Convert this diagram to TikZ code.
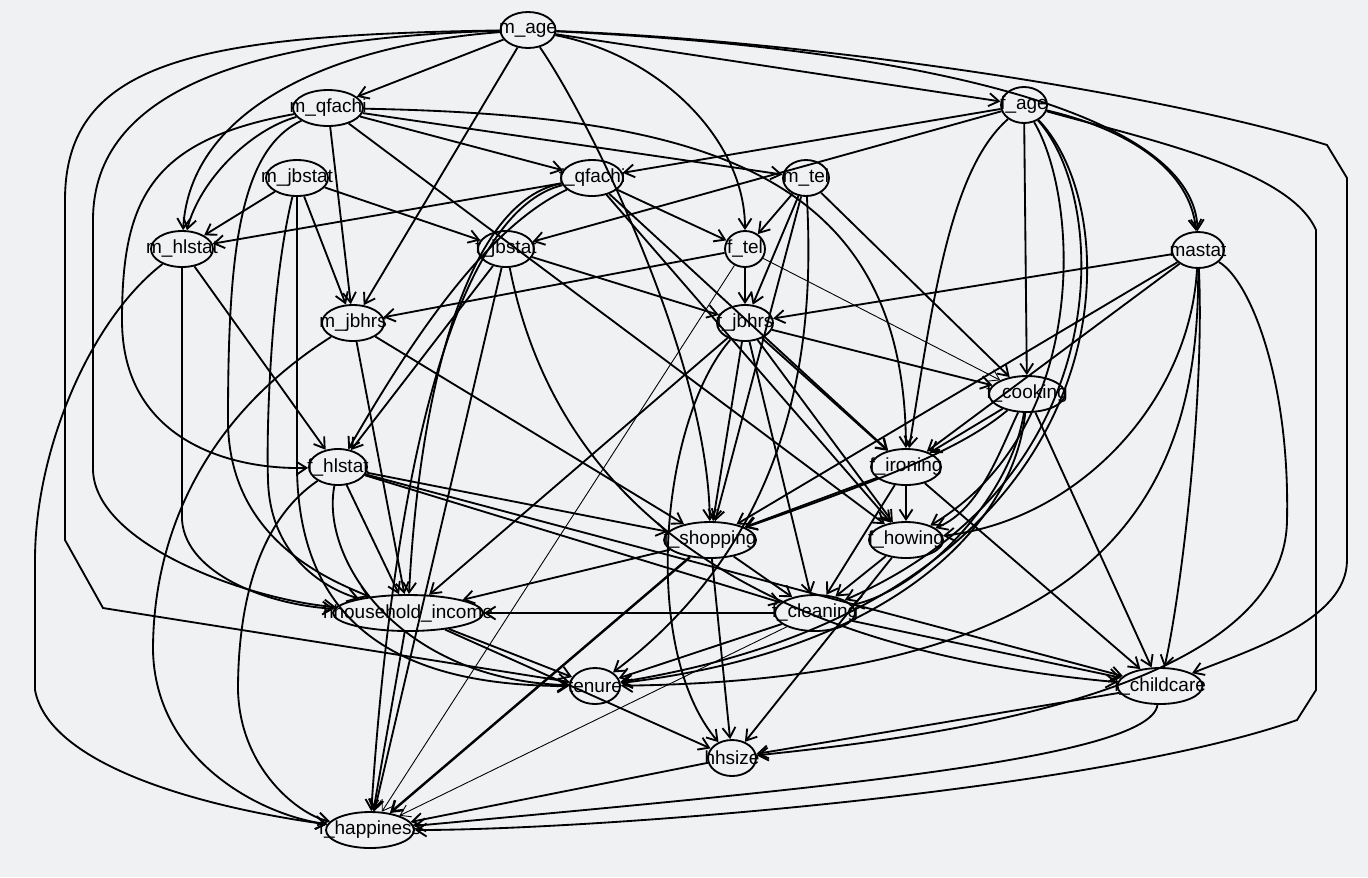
\documentclass[tikz,border=0pt]{standalone}
\usepackage{fontspec}
\setmainfont{Liberation Sans}
\usetikzlibrary{shapes.geometric,arrows.meta}
\definecolor{bgc}{RGB}{239,241,243}
\tikzset{
 nd/.style={ellipse, draw=black, line width=1.05pt, minimum height=0.72cm, inner sep=0pt, font=\fontsize{10.8}{12}\selectfont},
 e/.style={draw=black, line width=1.05pt, -{Straight Barb[length=2mm,width=2.6mm]}}
}
\begin{document}
\begin{tikzpicture}[x=0.02cm,y=-0.02cm]
\fill[bgc] (0,0) rectangle (1368,877);
\useasboundingbox (0,0) rectangle (1368,877);
% nodes
\node[nd, minimum width=1.1cm] (mage) at (528,30) {\makebox[0pt]{m\_age}};
\node[nd, minimum width=1.4cm] (mqf) at (328,108) {\makebox[0pt]{m\_qfachi}};
\node[nd, minimum width=0.92cm] (fage) at (1024,105) {\makebox[0pt]{f\_age}};
\node[nd, minimum width=1.24cm] (mjbs) at (297,178) {\makebox[0pt]{m\_jbstat}};
\node[nd, minimum width=1.24cm] (fqf) at (592,178) {\makebox[0pt]{f\_qfachi}};
\node[nd, minimum width=0.92cm] (mtel) at (806,178) {\makebox[0pt]{m\_tel}};
\node[nd, minimum width=1.24cm] (mhl) at (182,249) {\makebox[0pt]{m\_hlstat}};
\node[nd, minimum width=1.12cm] (fjbs) at (506,249) {\makebox[0pt]{f\_jbstat}};
\node[nd, minimum width=0.8cm] (ftel) at (745,249) {\makebox[0pt]{f\_tel}};
\node[nd, minimum width=1.04cm] (mast) at (1198,250) {\makebox[0pt]{mastat}};
\node[nd, minimum width=1.24cm] (mjbh) at (353,323) {\makebox[0pt]{m\_jbhrs}};
\node[nd, minimum width=1.12cm] (fjbh) at (745,323) {\makebox[0pt]{f\_jbhrs}};
\node[nd, minimum width=1.52cm] (fcook) at (1027,394) {\makebox[0pt]{f\_cooking}};
\node[nd, minimum width=1.16cm] (fhl) at (338,467) {\makebox[0pt]{f\_hlstat}};
\node[nd, minimum width=1.4cm] (firon) at (906,467) {\makebox[0pt]{f\_ironing}};
\node[nd, minimum width=1.84cm] (fshop) at (710,540) {\makebox[0pt]{f\_shopping}};
\node[nd, minimum width=1.48cm] (fhow) at (906,540) {\makebox[0pt]{f\_howing}};
\node[nd, minimum width=3.0cm] (inc) at (408,613) {\makebox[0pt]{hhousehold\_income}};
\node[nd, minimum width=1.6cm] (fclean) at (815,613) {\makebox[0pt]{f\_cleaning}};
\node[nd, minimum width=1.0cm] (ten) at (595,686) {\makebox[0pt]{tenure}};
\node[nd, minimum width=1.7cm] (fchild) at (1160,686) {\makebox[0pt]{f\_childcare}};
\node[nd, minimum width=0.96cm] (hh) at (732,758) {\makebox[0pt]{hhsize}};
\node[nd, minimum width=1.76cm] (fhap) at (370,830) {\makebox[0pt]{f\_happiness}};
% m_age
\draw[e] (mage) -- (mqf);
\draw[e] (mage) -- (fage);
\draw[e] (mage) .. controls (330,45) and (190,110) .. (mhl);
\draw[e] (mage) -- (mjbh);
\draw[e] (mage) .. controls (660,55) and (745,140) .. (ftel);
\draw[e] (mage) .. controls (590,120) and (708,360) .. (fshop);
\draw[e] (mage) .. controls (950,50) and (1195,120) .. (mast);
\draw[e] (mage) .. controls (250,38) and (93,90) .. (93,220) -- (93,470) .. controls (95,545) and (250,600) .. (inc);
\draw[e] (mage) .. controls (200,35) and (65,60) .. (65,200) -- (65,540) -- (103,608) -- (ten);
\draw[e] (mage) .. controls (800,40) and (1150,90) .. (1327,145) -- (1347,178) -- (1347,560) .. controls (1347,620) and (1250,650) .. (fchild);
% m_qfachi
\draw[e] (mqf) .. controls (250,130) and (200,180) .. (mhl);
\draw[e] (mqf) -- (mjbh);
\draw[e] (mqf) -- (fqf);
\draw[e] (mqf) -- (mtel);
\draw[e] (mqf) .. controls (700,115) and (905,170) .. (firon);
\draw[e] (mqf) -- (fhow);
\draw[e] (mqf) .. controls (150,140) and (122,200) .. (122,320) .. controls (122,440) and (230,470) .. (fhl);
\draw[e] (mqf) .. controls (240,150) and (228,250) .. (228,420) .. controls (228,540) and (330,580) .. (inc);
% m_jbstat
\draw[e] (mjbs) -- (mhl);
\draw[e] (mjbs) -- (mjbh);
\draw[e] (mjbs) -- (fjbs);
\draw[e] (mjbs) .. controls (272,280) and (266,420) .. (268,480) .. controls (270,560) and (330,590) .. (inc);
\draw[e] (mjbs) -- (297,470) .. controls (300,640) and (420,686) .. (ten);
% f_age
\draw[e] (fage) -- (fqf);
\draw[e] (fage) -- (fjbs);
\draw[e] (fage) -- (fcook);
\draw[e] (fage) .. controls (950,170) and (933,300) .. (firon);
\draw[e] (fage) .. controls (1080,200) and (1090,430) .. (fhow);
\draw[e] (fage) .. controls (1110,200) and (1120,480) .. (fclean);
\draw[e] (fage) .. controls (1135,220) and (1130,600) .. (ten);
\draw[e] (fage) .. controls (1130,130) and (1190,170) .. (mast);
\draw[e] (fage) .. controls (1150,140) and (1290,170) .. (1316,230) -- (1316,690) -- (1297,720) .. controls (1100,790) and (600,830) .. (fhap);
% f_qfachi
\draw[e] (fqf) -- (mhl);
\draw[e] (fqf) .. controls (480,230) and (400,360) .. (fhl);
\draw[e] (fqf) .. controls (470,200) and (420,380) .. (inc);
\draw[e] (fqf) .. controls (460,210) and (395,450) .. (fhap);
\draw[e] (fqf) -- (ftel);
\draw[e] (fqf) -- (firon);
\draw[e] (fqf) -- (fhow);
% m_tel
\draw[e] (mtel) -- (ftel);
\draw[e] (mtel) -- (fjbh);
\draw[e] (mtel) -- (fshop);
\draw[e] (mtel) -- (fcook);
\draw[e] (mtel) .. controls (812,300) and (815,520) .. (ten);
% m_hlstat
\draw[e] (mhl) -- (fhl);
\draw[e] (mhl) -- (182,520) .. controls (186,575) and (270,605) .. (inc);
\draw[e] (mhl) .. controls (90,320) and (35,450) .. (35,560) -- (35,690) .. controls (50,770) and (220,810) .. (fhap);
% f_jbstat
\draw[e] (fjbs) -- (fhl);
\draw[e] (fjbs) -- (fjbh);
\draw[e] (fjbs) -- (fhap);
\draw[e] (fjbs) .. controls (540,420) and (650,640) .. (fchild);
% f_tel
\draw[e] (ftel) -- (fjbh);
\draw[e] (ftel) -- (mjbh);
\draw[e,line width=0.5pt] (ftel) -- (fcook);
\draw[e,line width=0.5pt] (ftel) -- (fhap);
% mastat
\draw[e] (mast) -- (fjbh);
\draw[e] (mast) -- (firon);
\draw[e] (mast) -- (fshop);
\draw[e] (mast) .. controls (1190,400) and (1080,520) .. (fhow);
\draw[e] (mast) .. controls (1205,400) and (1180,600) .. (fchild);
\draw[e] (mast) .. controls (1200,500) and (1100,680) .. (ten);
\draw[e] (mast) .. controls (1250,280) and (1290,380) .. (1287,520) .. controls (1285,700) and (900,740) .. (hh);
% m_jbhrs
\draw[e] (mjbh) -- (fshop);
\draw[e] (mjbh) -- (inc);
\draw[e] (mjbh) .. controls (200,420) and (153,540) .. (153,650) .. controls (155,760) and (260,815) .. (fhap);
% f_jbhrs
\draw[e] (fjbh) -- (fshop);
\draw[e] (fjbh) -- (firon);
\draw[e] (fjbh) -- (fcook);
\draw[e] (fjbh) -- (fhow);
\draw[e] (fjbh) -- (fclean);
\draw[e] (fjbh) -- (inc);
\draw[e] (fjbh) .. controls (660,420) and (640,650) .. (hh);
% f_cooking
\draw[e] (fcook) -- (firon);
\draw[e] (fcook) .. controls (960,450) and (880,480) .. (fshop);
\draw[e] (fcook) .. controls (1000,450) and (980,510) .. (fhow);
\draw[e] (fcook) .. controls (1010,500) and (920,590) .. (fclean);
\draw[e] (fcook) -- (fchild);
\draw[e] (fcook) .. controls (1015,520) and (900,650) .. (ten);
% f_hlstat
\draw[e] (fhl) -- (fshop);
\draw[e] (fhl) -- (inc);
\draw[e] (fhl) -- (fclean);
\draw[e] (fhl) .. controls (320,560) and (400,680) .. (ten);
\draw[e] (fhl) .. controls (260,520) and (238,600) .. (238,690) .. controls (240,770) and (300,815) .. (fhap);
\draw[e] (fhl) -- (fchild);
% f_ironing
\draw[e] (firon) -- (fshop);
\draw[e] (firon) -- (fhow);
\draw[e] (firon) -- (fclean);
\draw[e] (firon) -- (fchild);
% f_shopping
\draw[e] (fshop) -- (inc);
\draw[e] (fshop) -- (fclean);
\draw[e] (fshop) -- (hh);
\draw[e,line width=1.4pt] (fshop) -- (fhap);
% f_howing
\draw[e] (fhow) -- (fclean);
\draw[e] (fhow) -- (hh);
% household income
\draw[e] (inc) -- (ten);
\draw[e] (inc) -- (hh);
\draw[e] (inc) -- (fhap);
% f_cleaning
\draw[e] (fclean) -- (inc);
\draw[e] (fclean) -- (ten);
\draw[e] (fclean) -- (fchild);
\draw[e,line width=0.5pt] (fclean) -- (fhap);
% f_childcare
\draw[e] (fchild) -- (hh);
\draw[e] (fchild) .. controls (1150,760) and (800,790) .. (fhap);
% hhsize
\draw[e] (hh) -- (fhap);
\end{tikzpicture}
\end{document}
